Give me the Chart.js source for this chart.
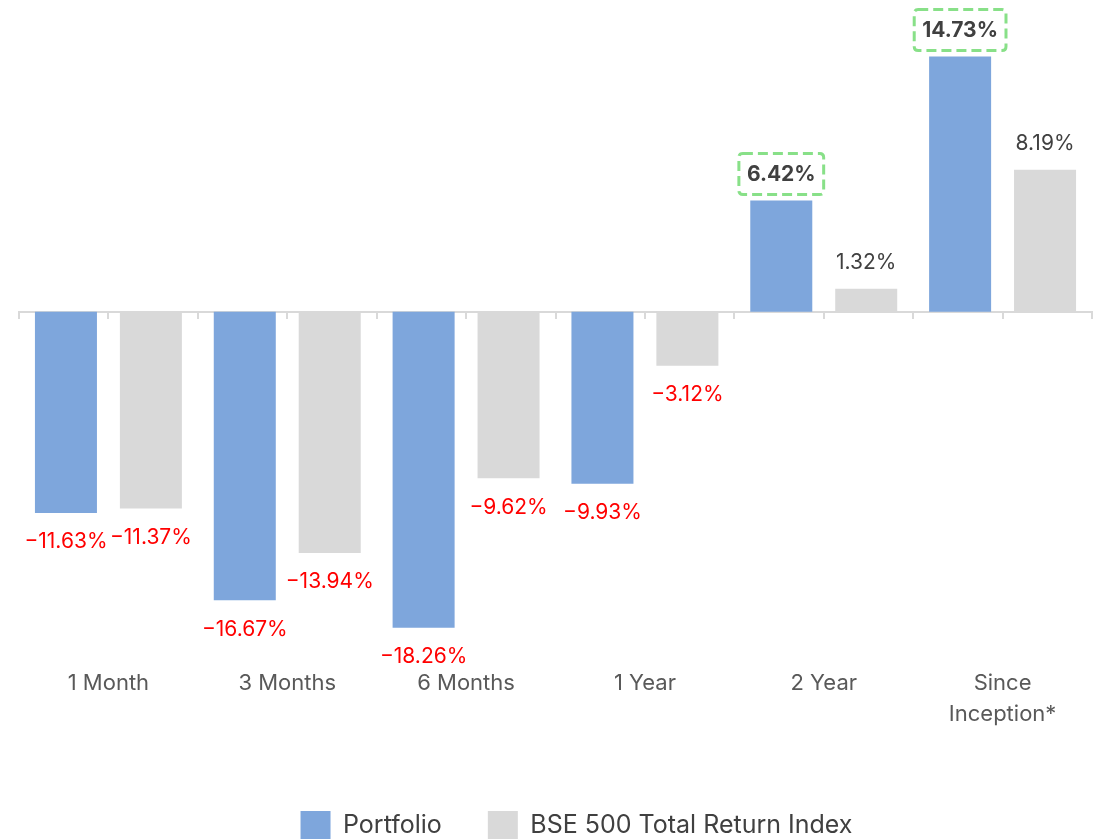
<!DOCTYPE html>
<html>
<head>
<meta charset="utf-8">
<script src="https://cdn.jsdelivr.net/npm/chart.js@4/dist/chart.umd.min.js"></script>
<style>
  html, body { margin: 0; padding: 0; background: #ffffff; }
  #wrap { width: 1097px; height: 839px; }
</style>
</head>
<body>
<div id="wrap"><canvas id="myChart" width="1097" height="839"></canvas></div>
<script>
// Périodes affichées sur l'axe X
const periods = ['1 Month', '3 Months', '6 Months', '1 Year', '2 Year', ['Since', 'Inception*']];

// Rendements (%)
const portfolioReturns = [-11.63, -16.67, -18.26, -9.93, 6.42, 14.73];
const indexReturns = [-11.37, -13.94, -9.62, -3.12, 1.32, 8.19];

const seriesNames = ['Portfolio', 'BSE 500 Total Return Index'];

// Petites graduations à chaque demi-catégorie sur la ligne du zéro
const halfTicks = new Array(periods.length * 2).fill('');

const FONT = 'Inter, "DejaVu Sans", sans-serif';

/**
 * Dessine un rectangle arrondi en pointillés autour d'une étiquette.
 */
function dashedBox(ctx, x, y, w, h, r)
{
    ctx.beginPath();
    ctx.moveTo(x + r, y);
    ctx.lineTo(x + w - r, y);
    ctx.quadraticCurveTo(x + w, y, x + w, y + r);
    ctx.lineTo(x + w, y + h - r);
    ctx.quadraticCurveTo(x + w, y + h, x + w - r, y + h);
    ctx.lineTo(x + r, y + h);
    ctx.quadraticCurveTo(x, y + h, x, y + h - r);
    ctx.lineTo(x, y + r);
    ctx.quadraticCurveTo(x, y, x + r, y);
    ctx.closePath();
    ctx.stroke();
}

/**
 * Plugin maison pour les étiquettes de valeurs.
 */
const valueLabels = {
    id: 'valueLabels',
    afterDatasetsDraw(chart)
    {
        const ctx = chart.ctx;
        ctx.save();
        ctx.textAlign = 'center';
        ctx.textBaseline = 'middle';
        chart.data.datasets.forEach((ds, di) => {
            const meta = chart.getDatasetMeta(di);
            meta.data.forEach((bar, i) => {
                const v = ds.data[i];
                const text = (v < 0 ? '\u2212' : '') + Math.abs(v).toFixed(2) + '%';
                const neg = v < 0;
                const y = neg ? bar.y + 28 : bar.y - 27;
                const bold = !neg && di === 0;
                ctx.font = (bold ? '700 ' : '400 ') + '21px ' + FONT;
                if (bold) {
                    const w = ctx.measureText(text).width + 16;
                    ctx.strokeStyle = '#88e088';
                    ctx.lineWidth = 3;
                    ctx.setLineDash([10, 5]);
                    dashedBox(ctx, bar.x - w / 2, y - 20, w, 41, 4);
                    ctx.setLineDash([]);
                }
                ctx.fillStyle = neg ? '#ff0000' : '#404040';
                ctx.fillText(text, bar.x, y + 1);
            });
        });
        ctx.restore();
    }
};

/**
 * Décale la légende vers la droite comme sur l'original.
 */
const legendShift = {
    id: 'legendShift',
    afterLayout(chart)
    {
        chart.legend.left += 21;
        chart.legend.right += 21;
    }
};

const ctx = document.getElementById('myChart').getContext('2d');

const config = {
    type: 'bar',
    data: {
        labels: periods,
        datasets: [
            {
                label: seriesNames[0],
                data: portfolioReturns,
                backgroundColor: '#7ea6dc',
                borderWidth: 0,
            },
            {
                label: seriesNames[1],
                data: indexReturns,
                backgroundColor: '#d9d9d9',
                borderWidth: 0,
            },
        ],
    },
    options: {
        responsive: false,
        animation: false,
        categoryPercentage: 0.95,
        barPercentage: 0.73,
        layout: {
            padding: { left: 19, right: 5, top: 0, bottom: -11 },
        },
        plugins: {
            tooltip: { enabled: false },
            legend: {
                position: 'bottom',
                labels: {
                    boxWidth: 30,
                    boxHeight: 29,
                    padding: 46,
                    color: '#404040',
                    font: { family: FONT, size: 25 },
                },
            },
        },
        scales: {
            x: {
                grid: { display: false },
                border: { display: false },
                ticks: {
                    color: '#595959',
                    padding: 1,
                    maxRotation: 0,
                    font: { family: FONT, size: 22, lineHeight: 1.45 },
                },
                afterFit(scale) {
                    scale.height = 107;
                },
            },
            x2: {
                type: 'category',
                labels: halfTicks,
                position: { y: 0 },
                grid: {
                    offset: true,
                    drawOnChartArea: false,
                    tickLength: 6,
                    color: '#d9d9d9',
                    lineWidth: 2,
                },
                border: { display: true, color: '#d9d9d9', width: 2 },
                ticks: { display: false },
            },
            y: {
                display: false,
                min: -20,
                max: 18,
            },
        },
    },
    plugins: [valueLabels, legendShift],
};

const myChart = new Chart(ctx, config);
</script>
</body>
</html>
